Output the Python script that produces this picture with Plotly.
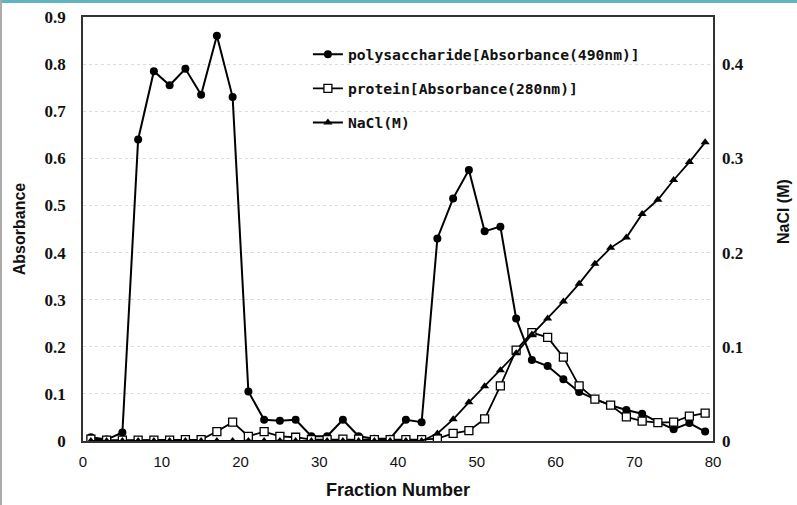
import plotly.graph_objects as go

fraction = [1, 3, 5, 7, 9, 11, 13, 15, 17, 19, 21, 23, 25, 27, 29, 31, 33, 35, 37, 39,
            41, 43, 45, 47, 49, 51, 53, 55, 57, 59, 61, 63, 65, 67, 69, 71, 73, 75, 77, 79]

polysaccharide = [0.008, 0.003, 0.018, 0.64, 0.785, 0.755, 0.79, 0.735, 0.86, 0.73,
                  0.105, 0.045, 0.043, 0.045, 0.01, 0.01, 0.045, 0.01, 0.005, 0.005,
                  0.045, 0.04, 0.43, 0.515, 0.575, 0.445, 0.455, 0.26, 0.172, 0.159,
                  0.131, 0.104, 0.089, 0.076, 0.066, 0.058, 0.04, 0.025, 0.038, 0.02]

protein = [0.004, 0.002, 0.002, 0.002, 0.002, 0.002, 0.003, 0.003, 0.02, 0.04,
           0.01, 0.02, 0.01, 0.008, 0.003, 0.003, 0.004, 0.004, 0.003, 0.003,
           0.003, 0.003, 0.005, 0.016, 0.022, 0.047, 0.117, 0.193, 0.23, 0.22,
           0.178, 0.117, 0.089, 0.076, 0.051, 0.042, 0.039, 0.04, 0.053, 0.059]

nacl = [0, 0, 0, 0, 0, 0, 0, 0, 0, 0,
        0, 0, 0, 0, 0, 0, 0, 0, 0, 0,
        0, 0, 0.008, 0.023, 0.041, 0.058, 0.075, 0.093, 0.113, 0.130,
        0.148, 0.167, 0.188, 0.205, 0.216, 0.241, 0.256, 0.277, 0.296, 0.317]

x_ticks = [0, 10, 20, 30, 40, 50, 60, 70, 80]
left_ticks = [0, 0.1, 0.2, 0.3, 0.4, 0.5, 0.6, 0.7, 0.8, 0.9]
right_ticks = [0, 0.1, 0.2, 0.3, 0.4]

names = ["polysaccharide[Absorbance(490nm)]", "protein[Absorbance(280nm)]", "NaCl(M)"]
right_title = "NaCl (M)"

fig = go.Figure()
fig.add_trace(go.Scatter(
    x=fraction, y=polysaccharide, name=names[0], legendgroup="a",
    mode="lines+markers", line=dict(color="black", width=2),
    marker=dict(symbol="circle", size=8, color="black")))
fig.add_trace(go.Scatter(
    x=fraction, y=protein, name=names[1], legendgroup="b",
    mode="lines+markers", line=dict(color="black", width=1.8),
    marker=dict(symbol="square", size=8, color="white", line=dict(color="black", width=1.3))))
fig.add_trace(go.Scatter(
    x=fraction, y=nacl, name=names[2], legendgroup="c", yaxis="y2",
    mode="lines+markers", line=dict(color="black", width=1.8),
    marker=dict(symbol="triangle-up", size=8, color="black")))

fig.update_layout(
    width=797, height=505,
    margin=dict(l=83, r=84, t=17, b=64),
    paper_bgcolor="white", plot_bgcolor="white",
    showlegend=True,
    legend=dict(x=0.357, y=0.95, xanchor="left", yanchor="top",
                bgcolor="rgba(0,0,0,0)", tracegroupgap=12,
                font=dict(family="DejaVu Sans Mono", size=14.7, color="#111", weight="bold"),
                itemwidth=30),
    xaxis=dict(range=[0, 80], tickvals=x_ticks, showgrid=False, zeroline=False,
               showline=True, mirror=True, linecolor="#333", linewidth=1.5,
               ticks="", ticklabelstandoff=6, automargin=False,
               tickfont=dict(family="Liberation Sans", size=15, color="#111"),
               title=dict(text="Fraction Number",
                          font=dict(family="Liberation Sans", size=18, color="#111", weight="bold"))),
    yaxis=dict(range=[0, 0.9], tickvals=left_ticks,
               ticktext=["0", "0.1", "0.2", "0.3", "0.4", "0.5", "0.6", "0.7", "0.8", "0.9"],
               showgrid=True, gridcolor="#dcdcdc", griddash="dot", gridwidth=1,
               zeroline=False, showline=True, mirror=True, linecolor="#333", linewidth=1.5,
               ticks="", ticklabelstandoff=12, automargin=False,
               tickfont=dict(family="Liberation Serif", size=17, color="#111", weight="bold"),
               title=dict(text="Absorbance",
                          font=dict(family="Liberation Sans", size=16, color="#111", weight="bold"))),
    yaxis2=dict(range=[0, 0.45], tickvals=right_ticks,
                ticktext=["0", "0.1", "0.2", "0.3", "0.4"],
                overlaying="y", side="right", showgrid=False, zeroline=False,
                showline=False, ticks="", ticklabelstandoff=8, automargin=False,
                tickfont=dict(family="Liberation Serif", size=17, color="#111", weight="bold")),
    annotations=[
        dict(text=right_title, xref="paper", yref="paper", x=(783 - 83) / 630, y=0.54,
             xanchor="center", yanchor="middle", textangle=-90, showarrow=False,
             font=dict(family="Liberation Sans", size=16, color="#111", weight="bold")),
    ],
    shapes=[
        dict(type="rect", xref="paper", yref="paper", x0=-0.2, x1=1.2,
             y0=1 + 14/424, y1=1 + 20/424, fillcolor="#5fb3c3", line_width=0, layer="below"),
        dict(type="line", xref="paper", yref="paper", x0=-82/630, x1=-82/630,
             y0=-64/424, y1=1 + 17/424, line=dict(color="#aaaaaa", width=2)),
    ],
)

fig.write_html("out.html")
